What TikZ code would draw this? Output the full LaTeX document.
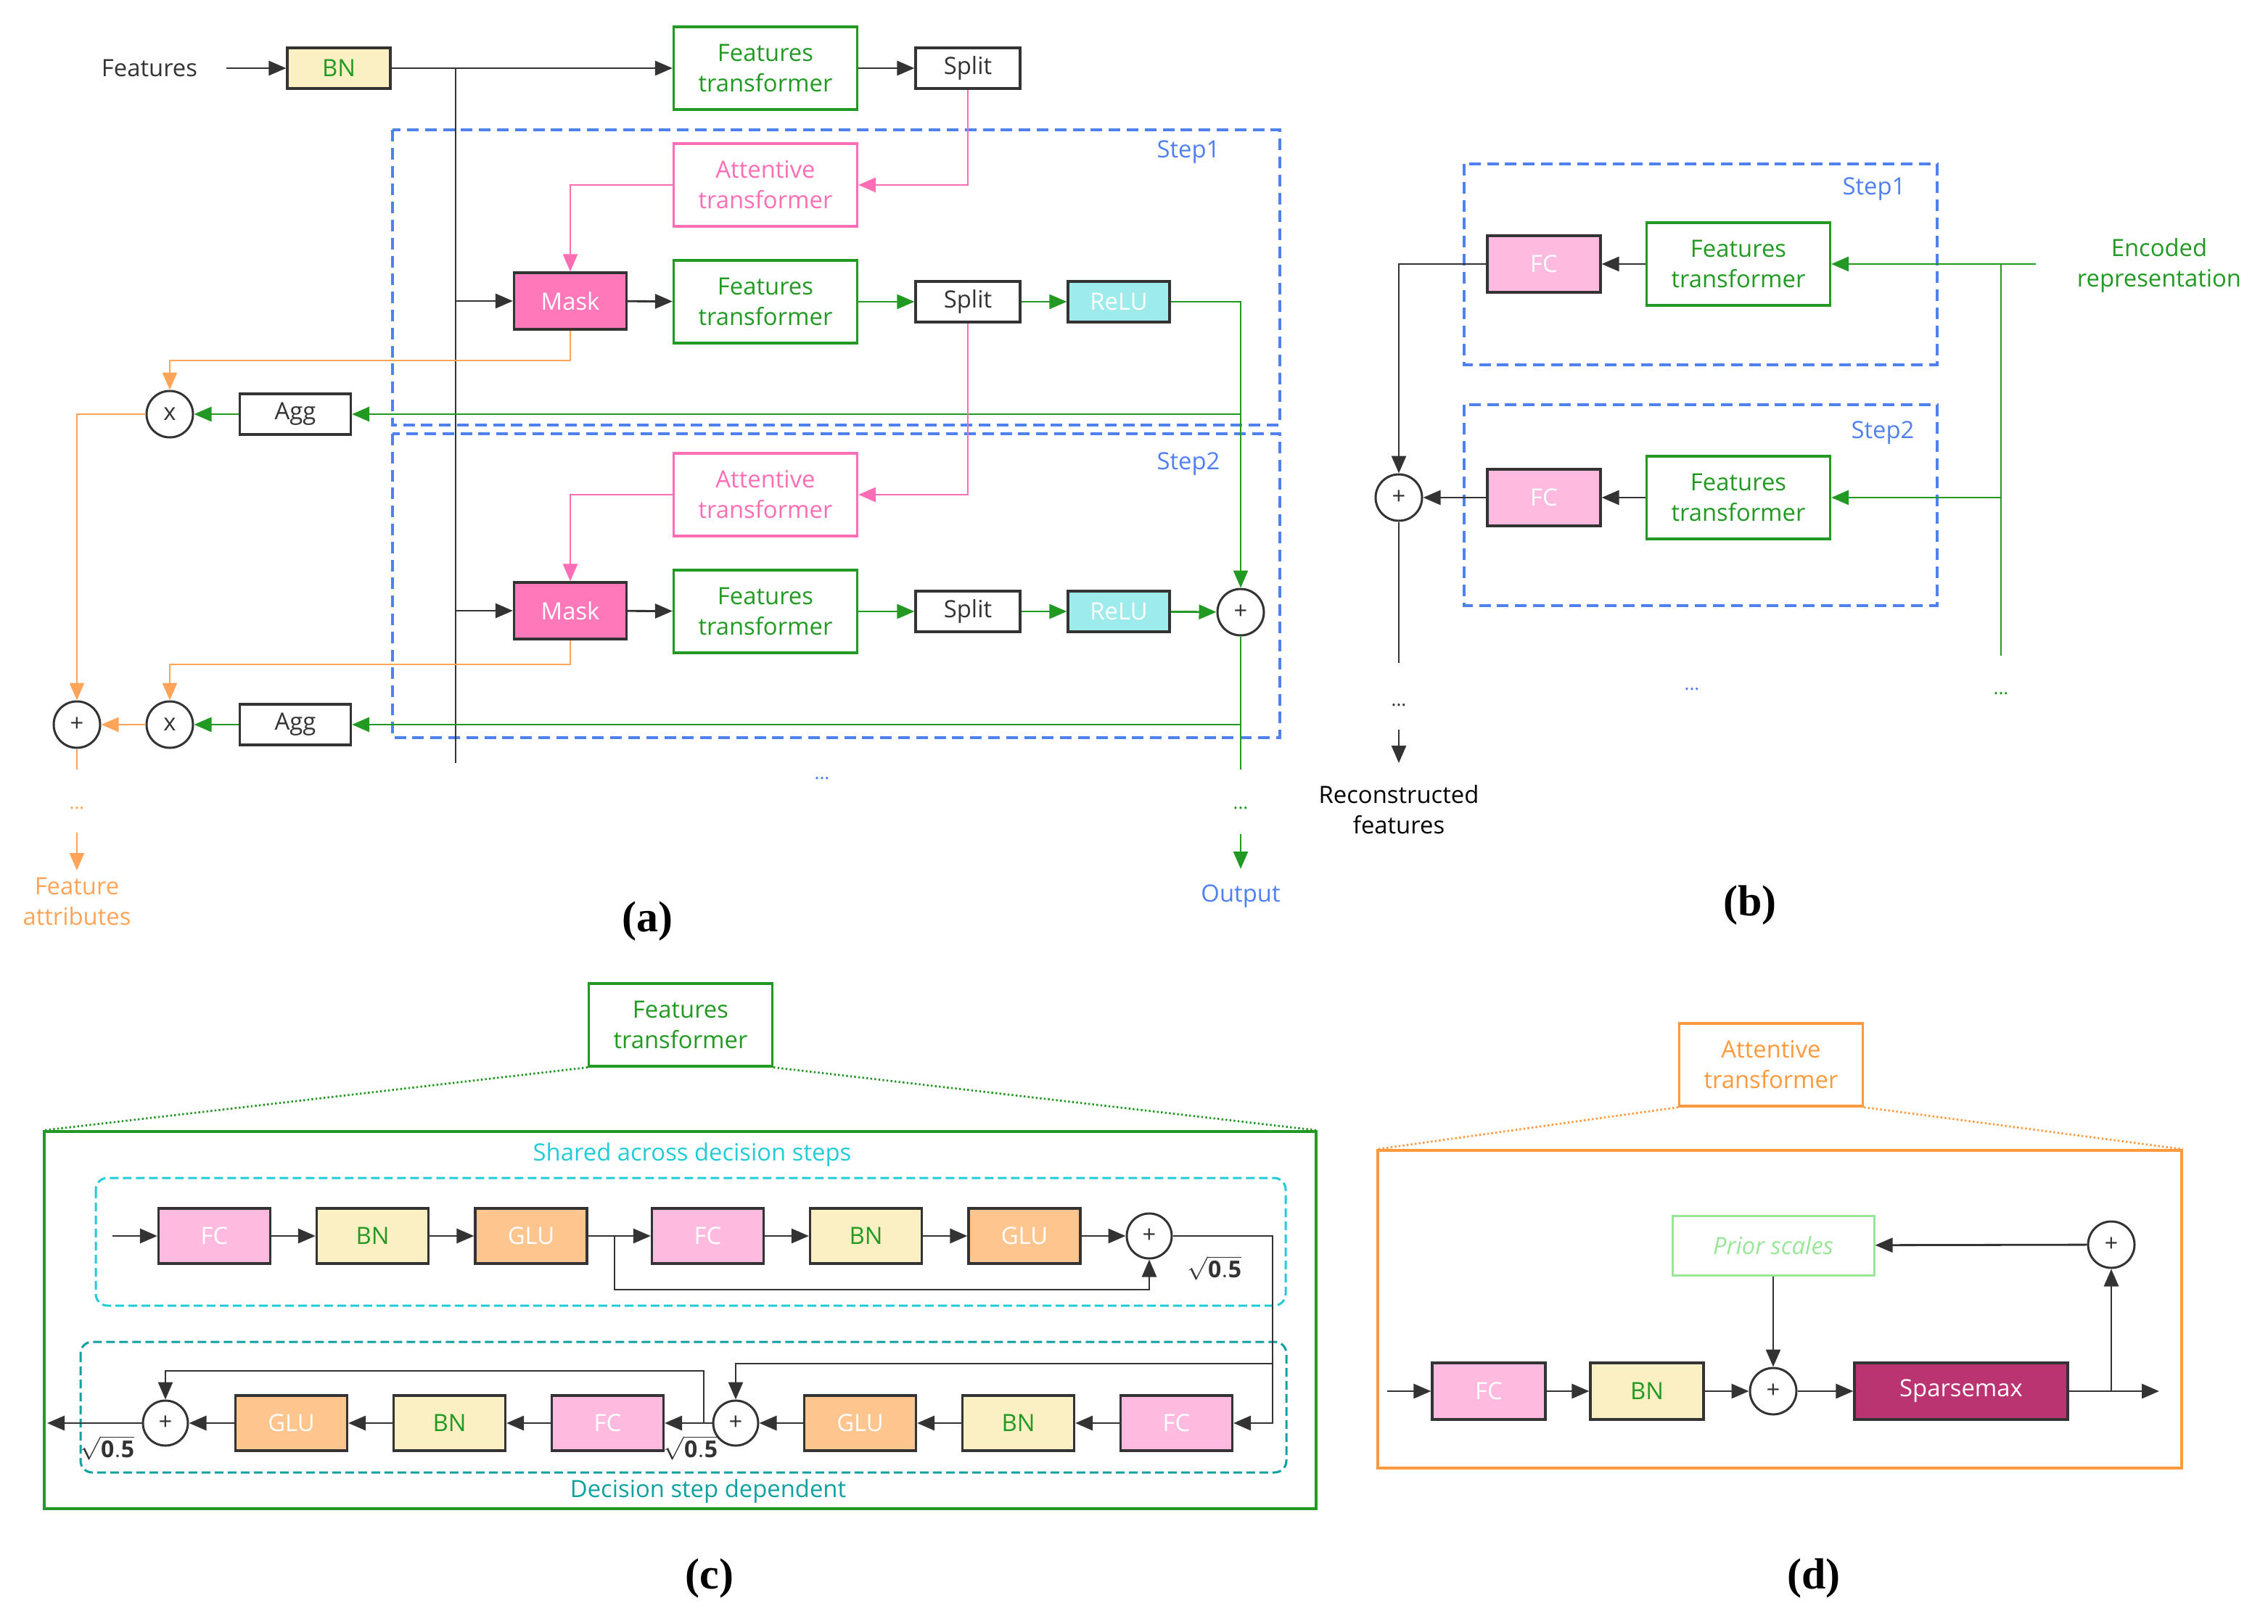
\documentclass[tikz,border=0pt]{standalone}
\usepackage{fontspec}
\setmainfont{Open Sans}
\newfontfamily\tnr{Liberation Serif}
\usetikzlibrary{arrows.meta,calc}
\definecolor{cgreen}{HTML}{229922}
\definecolor{cpink}{HTML}{FF6EB4}
\definecolor{cmask}{HTML}{FF78BA}
\definecolor{cfc}{HTML}{FFBADF}
\definecolor{cbn}{HTML}{FAF0C3}
\definecolor{cglu}{HTML}{FFC58E}
\definecolor{crelu}{HTML}{9EEBEB}
\definecolor{csparse}{HTML}{BA3471}
\definecolor{cblue}{HTML}{5080F0}
\definecolor{corange}{HTML}{FFA458}
\definecolor{corangeb}{HTML}{FF9A3C}
\definecolor{ccyan}{HTML}{20CCD8}
\definecolor{cteal}{HTML}{0FA0A0}
\definecolor{cprior}{HTML}{99E699}
\definecolor{cdark}{HTML}{333333}
\newcommand\fsz{\fontsize{8.2}{10.5}\selectfont}
\tikzset{
  base/.style={inner sep=0pt, align=center, font=\fsz},
  blk/.style={base, draw=cdark, line width=0.8pt},
  ftbox/.style={base, draw=cgreen, line width=0.8pt, text=cgreen, minimum width=63.25pt, minimum height=28.5pt},
  atbox/.style={ftbox, draw=cpink, text=cpink},
  bnbox/.style={blk, fill=cbn, text=cgreen, minimum width=38.5pt, minimum height=19pt},
  splitbox/.style={blk, fill=white, text=cdark, minimum width=36pt, minimum height=14pt},
  maskbox/.style={blk, fill=cmask, text=white, minimum width=38.75pt, minimum height=19.5pt},
  relubox/.style={blk, fill=crelu, text=white, minimum width=35pt, minimum height=14pt},
  aggbox/.style={blk, fill=white, text=cdark, minimum width=38.25pt, minimum height=14pt},
  fcbox/.style={blk, fill=cfc, text=white, minimum width=38.5pt, minimum height=19pt},
  glubox/.style={blk, fill=cglu, text=white, minimum width=38.5pt, minimum height=19pt},
  opc/.style={circle, draw=cdark, line width=0.75pt, fill=white, minimum size=16pt, inner sep=0pt, font=\fsz, text=cdark},
  arr/.style={line width=0.7pt, -{Triangle[length=6pt,width=5pt]}},
  ln/.style={line width=0.7pt},
  stepframe/.style={draw=cblue, line width=0.8pt, dash pattern=on 4pt off 2.2pt},
  lab/.style={inner sep=0pt, font=\tnr\bfseries\fontsize{15}{15}\selectfont},
  dots/.style={inner sep=0pt, font=\fontsize{6.5}{6.5}\selectfont},
  sq/.style={inner sep=0pt, font=\fontsize{8}{9}\selectfont, text=cdark},
  zoomline/.style={line width=0.7pt, dash pattern=on 0.6pt off 0.8pt},
}
\begin{document}
\begin{tikzpicture}[x=0.5pt,y=-0.5pt]
\useasboundingbox (0,0) rectangle (1563,1119);
%% ---------------- (a) ----------------
\draw[stepframe] (270.5,89.5) rectangle (882,293);
\draw[stepframe] (270.5,299) rectangle (882,508.5);
\node[base, text=cblue] (st1) at (819,105) {Step1};
\node[base, text=cblue] (st2) at (819,320) {Step2};
\node[base, text=cdark] (featlab) at (103,47) {Features};
\coordinate (fin) at (156,47);
\node[bnbox, minimum width=35.5pt, minimum height=14pt] (bn) at (233.5,47) {BN};
\node[ftbox] (ft1) at (527.5,47) {Features\\transformer};
\node[splitbox] (sp1) at (667,47) {Split};
\node[atbox] (at1) at (527.5,127.5) {Attentive\\transformer};
\node[maskbox] (mk1) at (393,207.5) {Mask};
\node[ftbox] (ft2) at (527.5,208) {Features\\transformer};
\node[splitbox] (sp2) at (667,208) {Split};
\node[relubox] (re1) at (771,208) {ReLU};
\node[opc] (x1) at (117,285.5) {x};
\node[aggbox] (ag1) at (203.5,285.5) {Agg};
\node[atbox] (at2) at (527.5,341) {Attentive\\transformer};
\node[maskbox] (mk2) at (393,421) {Mask};
\node[ftbox] (ft3) at (527.5,421.5) {Features\\transformer};
\node[splitbox] (sp3) at (667,421.5) {Split};
\node[relubox] (re2) at (771,421.5) {ReLU};
\node[opc] (pa) at (855,422) {+};
\node[opc] (x2) at (117,499.5) {x};
\node[aggbox] (ag2) at (203.5,499.5) {Agg};
\node[opc] (ps) at (53,499.5) {+};
\coordinate (vtop) at (314,47);
\coordinate (vbot) at (314,526);
\draw[arr,cdark] (fin) -- (bn);
\draw[arr,cdark] (bn) -- (ft1);
\draw[ln,cdark] (vtop) -- (vbot);
\draw[arr,cdark] (ft1) -- (sp1);
\draw[arr,cpink] (sp1) |- (at1);
\draw[arr,cpink] (at1) -| (mk1);
\draw[arr,cdark] (vtop |- mk1) -- (mk1);
\draw[arr,cdark] (mk1) -- (ft2);
\draw[arr,cgreen] (ft2) -- (sp2);
\draw[arr,cgreen] (sp2) -- (re1);
\draw[arr,cgreen] (re1) -| (pa);
\draw[arr,cgreen] (pa |- ag1) -- (ag1);
\draw[arr,cgreen] (ag1) -- (x1);
\coordinate (ob1) at (393,248.5);
\draw[arr,corange] (mk1) -- (ob1) -| (x1);
\draw[arr,corange] (x1) -| (ps);
\draw[arr,cpink] (sp2) |- (at2);
\draw[arr,cpink] (at2) -| (mk2);
\draw[arr,cdark] (vtop |- mk2) -- (mk2);
\draw[arr,cdark] (mk2) -- (ft3);
\draw[arr,cgreen] (ft3) -- (sp3);
\draw[arr,cgreen] (sp3) -- (re2);
\draw[arr,cgreen] (re2) -- (pa);
\coordinate (gend) at (855,530.5);
\draw[ln,cgreen] (pa) -- (gend);
\draw[arr,cgreen] (pa |- ag2) -- (ag2);
\draw[arr,cgreen] (ag2) -- (x2);
\coordinate (ob2) at (393,458);
\draw[arr,corange] (mk2) -- (ob2) -| (x2);
\draw[arr,corange] (x2) -- (ps);
\coordinate (oend) at (53,530.5);
\draw[ln,corange] (ps) -- (oend);
\node[dots,text=corange] (od) at (53,557) {...};
\coordinate (oa1) at (53,574);
\coordinate (oa2) at (53,600);
\draw[arr,corange] (oa1) -- (oa2);
\node[base,text=corange] (fattr) at (53,621.5) {Feature\\attributes};
\node[dots,text=cgreen] (gd) at (855,557) {...};
\coordinate (ga1) at (855,575);
\coordinate (ga2) at (855,599);
\draw[arr,cgreen] (ga1) -- (ga2);
\node[base,text=cblue] (outlab) at (855,618) {Output};
\node[dots,text=cblue] (bd) at (566.5,536.5) {...};
\node[lab] (la) at (446,635) {(a)};
%% ---------------- (b) ----------------
\draw[stepframe] (1009,113) rectangle (1335,251.5);
\draw[stepframe] (1009,279) rectangle (1335,417.5);
\node[base,text=cblue] (bs1) at (1291.5,130.5) {Step1};
\node[base,text=cblue] (bs2) at (1297.5,298.5) {Step2};
\node[fcbox, minimum width=39pt, minimum height=19.5pt] (bfc1) at (1064,182) {FC};
\node[ftbox] (bft1) at (1198,182) {Features\\transformer};
\node[fcbox, minimum width=39pt, minimum height=19.5pt] (bfc2) at (1064,343) {FC};
\node[ftbox] (bft2) at (1198,343) {Features\\transformer};
\node[opc] (bp) at (964,343) {+};
\node[base,text=cgreen] (enc) at (1488,183) {Encoded\\representation};
\coordinate (gin) at (1403,182);
\coordinate (gv) at (1379,182);
\coordinate (gvb) at (1379,452);
\draw[arr,cgreen] (gin) -- (bft1);
\draw[ln,cgreen] (gv) -- (gvb);
\draw[arr,cgreen] (gv |- bft2) -- (bft2);
\draw[arr,cdark] (bft1) -- (bfc1);
\draw[arr,cdark] (bfc1) -| (bp);
\draw[arr,cdark] (bft2) -- (bfc2);
\draw[arr,cdark] (bfc2) -- (bp);
\coordinate (bpe) at (964,457);
\draw[ln,cdark] (bp) -- (bpe);
\node[dots,text=cdark] (bdd) at (964,486) {...};
\coordinate (ba1) at (964,503);
\coordinate (ba2) at (964,526);
\draw[arr,cdark] (ba1) -- (ba2);
\node[base,text=black] (rec) at (964,558) {Reconstructed\\features};
\node[dots,text=cblue] (bbd) at (1166,475) {...};
\node[dots,text=cgreen] (bgd) at (1379,478) {...};
\node[lab] (lb) at (1206,624) {(b)};
%% ---------------- (c) ----------------
\node[ftbox] (cft) at (469,706.5) {Features\\transformer};
\node[draw=cgreen, line width=0.8pt, inner sep=0pt, minimum width=438.25pt, minimum height=130pt] (cbig) at (468.75,910) {};
\draw[zoomline,cgreen] (cft.south west) -- (cbig.north west);
\draw[zoomline,cgreen] (cft.south east) -- (cbig.north east);
\draw[ccyan, line width=0.75pt, dash pattern=on 3pt off 1.5pt, rounded corners=4pt] (66,812) rectangle (886,900);
\draw[cteal, line width=0.75pt, dash pattern=on 3pt off 1.5pt, rounded corners=4pt] (55.5,925) rectangle (886.5,1015);
\node[base, text=ccyan] (shl) at (477,796) {Shared across decision steps};
\node[base, text=cteal] (dsl) at (488,1028) {Decision step dependent};
\node[fcbox] (c1) at (147.75,852) {FC};
\node[bnbox] (c2) at (256.75,852) {BN};
\node[glubox] (c3) at (366,852) {GLU};
\node[fcbox] (c4) at (487.75,852) {FC};
\node[bnbox] (c5) at (596.75,852) {BN};
\node[glubox] (c6) at (706,852) {GLU};
\node[opc, minimum size=15.5pt] (cp1) at (792,852) {+};
\node[fcbox] (d1) at (810.75,981) {FC};
\node[bnbox] (d2) at (701.75,981) {BN};
\node[glubox] (d3) at (592.75,981) {GLU};
\node[opc, minimum size=15.5pt] (cp2) at (507,981) {+};
\node[fcbox] (d4) at (418.75,981) {FC};
\node[bnbox] (d5) at (309.75,981) {BN};
\node[glubox] (d6) at (200.75,981) {GLU};
\node[opc, minimum size=15.5pt] (cp3) at (114,981) {+};
\coordinate (cin) at (77.5,852);
\draw[arr,cdark] (cin) -- (c1);
\draw[arr,cdark] (c1) -- (c2);
\draw[arr,cdark] (c2) -- (c3);
\draw[arr,cdark] (c3) -- (c4);
\draw[arr,cdark] (c4) -- (c5);
\draw[arr,cdark] (c5) -- (c6);
\draw[arr,cdark] (c6) -- (cp1);
\coordinate (cbr1) at (423.5,852);
\coordinate (cl1) at (423.5,889);
\draw[arr,cdark] (cbr1) -- (cl1) -| (cp1);
\coordinate (cr1) at (877,852);
\coordinate (cr2) at (877,981);
\draw[arr,cdark] (cp1) -- (cr1) -- (cr2) -- (d1);
\coordinate (cbr2) at (877,940);
\draw[arr,cdark] (cbr2) -| (cp2);
\draw[arr,cdark] (d1) -- (d2);
\draw[arr,cdark] (d2) -- (d3);
\draw[arr,cdark] (d3) -- (cp2);
\draw[arr,cdark] (cp2) -- (d4);
\draw[arr,cdark] (d4) -- (d5);
\draw[arr,cdark] (d5) -- (d6);
\draw[arr,cdark] (d6) -- (cp3);
\coordinate (cout) at (32.5,981);
\draw[arr,cdark] (cp3) -- (cout);
\coordinate (cbr3) at (485,981);
\coordinate (cl3) at (485,945);
\draw[arr,cdark] (cbr3) -- (cl3) -| (cp3);
\node[sq] (s1) at (837,874) {$\sqrt{\mathbf{0.5}}$};
\node[sq] (s2) at (476,998) {$\sqrt{\mathbf{0.5}}$};
\node[sq] (s3) at (74,998) {$\sqrt{\mathbf{0.5}}$};
\node[lab] (lc) at (489,1088) {(c)};
%% ---------------- (d) ----------------
\node[base, draw=corangeb, line width=0.8pt, text=corangeb, minimum width=63.25pt, minimum height=28.5pt] (dat) at (1220.5,734) {Attentive\\transformer};
\node[draw=corangeb, line width=0.8pt, inner sep=0pt, minimum width=277pt, minimum height=109.5pt] (dbig) at (1226.5,902.5) {};
\draw[zoomline,corangeb] (dat.south west) -- (dbig.north west);
\draw[zoomline,corangeb] (dat.south east) -- (dbig.north east);
\node[base, draw=cprior, line width=0.75pt, text=cprior, font=\fsz\itshape, minimum width=69.5pt, minimum height=20.5pt] (prior) at (1222,858.5) {Prior scales};
\node[opc] (dp1) at (1455,858) {+};
\node[fcbox, minimum width=39pt, minimum height=19.5pt] (e1) at (1026,959) {FC};
\node[bnbox, minimum width=39pt, minimum height=19.5pt] (e2) at (1135,959) {BN};
\node[opc] (dp2) at (1222,959) {+};
\node[blk, fill=csparse, text=white, minimum width=73.5pt, minimum height=19.5pt] (e3) at (1351.5,959) {Sparsemax};
\coordinate (din) at (956,959);
\coordinate (dout) at (1488,959);
\coordinate (dbr) at (1455,959);
\draw[arr,cdark] (din) -- (e1);
\draw[arr,cdark] (e1) -- (e2);
\draw[arr,cdark] (e2) -- (dp2);
\draw[arr,cdark] (dp2) -- (e3);
\draw[arr,cdark] (e3) -- (dout);
\draw[arr,cdark] (dbr) -- (dp1);
\draw[arr,cdark] (dp1) -- (prior);
\draw[arr,cdark] (prior) -- (dp2);
\node[lab] (ld) at (1250,1088) {(d)};
\end{tikzpicture}
\end{document}
